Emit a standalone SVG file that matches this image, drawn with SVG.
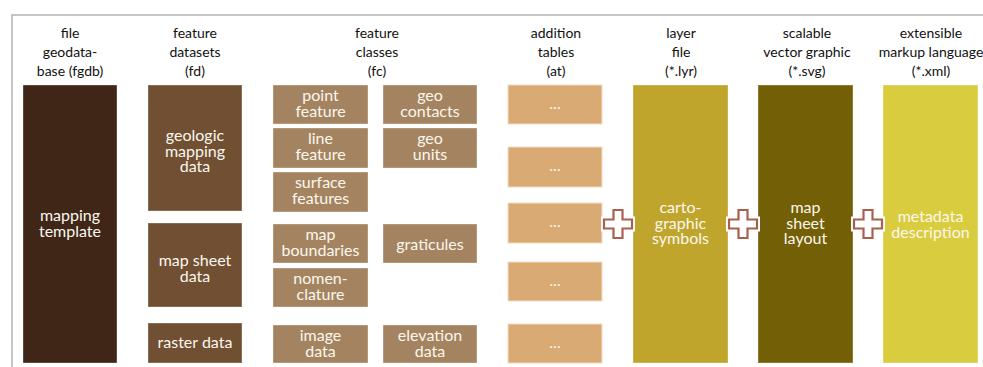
<svg xmlns="http://www.w3.org/2000/svg" width="983" height="367" viewBox="0 0 983 367">
<style>
.hd{font-family:Lato,"Open Sans","Liberation Sans",sans-serif;font-size:14px;fill:#111;text-anchor:middle}
.bt{font-family:Lato,"Open Sans","Liberation Sans",sans-serif;font-size:16px;fill:#fbf7ee;text-anchor:middle}
.box{stroke:#ffffff;stroke-opacity:0.35;stroke-width:1}
.fgdb{fill:#3f2616}
.fd{fill:#704f32}
.fc{fill:#a48460}
.at{fill:#d9aa74;stroke:#f3dcc0;stroke-width:1}
.lyr{fill:#bfa52c}
.svgc{fill:#735f05}
.xml{fill:#d9cc3f}
.plusO{fill:none;stroke:#ffffff;stroke-width:6;stroke-linejoin:miter}
.plusI{fill:#ffffff;stroke:#a8604e;stroke-width:2.2;stroke-linejoin:miter}
</style>
<defs>
<path id="plus" d="M-4.5,-14 H4.5 V-4.5 H14 V4.5 H4.5 V14 H-4.5 V4.5 H-14 V-4.5 H-4.5 Z"/>
</defs>
<rect width="983" height="367" fill="#ffffff"/>
<path d="M12,367 V15 H983" fill="none" stroke="#b3b3b3" stroke-width="1.5"/>

<g id="headers">
<text class="hd" x="70" y="38">file</text>
<text class="hd" x="70" y="57">geodata-</text>
<text class="hd" x="70" y="76">base (fgdb)</text>
<text class="hd" x="195" y="38">feature</text>
<text class="hd" x="195" y="57">datasets</text>
<text class="hd" x="195" y="76">(fd)</text>
<text class="hd" x="377" y="38">feature</text>
<text class="hd" x="377" y="57">classes</text>
<text class="hd" x="377" y="76">(fc)</text>
<text class="hd" x="556" y="38">addition</text>
<text class="hd" x="556" y="57">tables</text>
<text class="hd" x="556" y="76">(at)</text>
<text class="hd" x="681" y="38">layer</text>
<text class="hd" x="681" y="57">file</text>
<text class="hd" x="681" y="76">(*.lyr)</text>
<text class="hd" x="807" y="38">scalable</text>
<text class="hd" x="807" y="57">vector graphic</text>
<text class="hd" x="807" y="76">(*.svg)</text>
<text class="hd" x="931" y="38">extensible</text>
<text class="hd" x="931" y="57">markup language</text>
<text class="hd" x="931" y="76">(*.xml)</text>
</g>

<g id="fgdb">
<rect class="box fgdb" x="23" y="85" width="94" height="278"/>
<text class="bt" x="70" y="221">mapping</text>
<text class="bt" x="70" y="237">template</text>
</g>

<g id="fd-geologic">
<rect class="box fd" x="148" y="85" width="94" height="126"/>
<text class="bt" x="195" y="141">geologic</text>
<text class="bt" x="195" y="157">mapping</text>
<text class="bt" x="195" y="172">data</text>
</g>
<g id="fd-mapsheet">
<rect class="box fd" x="148" y="223" width="94" height="84"/>
<text class="bt" x="195" y="266">map sheet</text>
<text class="bt" x="195" y="282">data</text>
</g>
<g id="fd-raster">
<rect class="box fd" x="148" y="323" width="94" height="40"/>
<text class="bt" x="195" y="348">raster data</text>
</g>

<g id="fc-point">
<rect class="box fc" x="273" y="85" width="95" height="39"/>
<text class="bt" x="320.5" y="101">point</text>
<text class="bt" x="320.5" y="117">feature</text>
</g>
<g id="fc-line">
<rect class="box fc" x="273" y="128" width="95" height="40"/>
<text class="bt" x="320.5" y="144">line</text>
<text class="bt" x="320.5" y="160">feature</text>
</g>
<g id="fc-surface">
<rect class="box fc" x="273" y="172" width="95" height="40"/>
<text class="bt" x="320.5" y="188">surface</text>
<text class="bt" x="320.5" y="204">features</text>
</g>
<g id="fc-mapboundaries">
<rect class="box fc" x="273" y="224" width="95" height="39"/>
<text class="bt" x="320.5" y="240">map</text>
<text class="bt" x="320.5" y="256">boundaries</text>
</g>
<g id="fc-nomenclature">
<rect class="box fc" x="273" y="268" width="95" height="39"/>
<text class="bt" x="320.5" y="284">nomen-</text>
<text class="bt" x="320.5" y="300">clature</text>
</g>
<g id="fc-image">
<rect class="box fc" x="273" y="325" width="95" height="38"/>
<text class="bt" x="320.5" y="341">image</text>
<text class="bt" x="320.5" y="357">data</text>
</g>
<g id="fc-geocontacts">
<rect class="box fc" x="383" y="85" width="94" height="39"/>
<text class="bt" x="430" y="101">geo</text>
<text class="bt" x="430" y="117">contacts</text>
</g>
<g id="fc-geounits">
<rect class="box fc" x="383" y="128" width="94" height="40"/>
<text class="bt" x="430" y="144">geo</text>
<text class="bt" x="430" y="160">units</text>
</g>
<g id="fc-graticules">
<rect class="box fc" x="383" y="224" width="94" height="39"/>
<text class="bt" x="430" y="250">graticules</text>
</g>
<g id="fc-elevation">
<rect class="box fc" x="383" y="325" width="94" height="38"/>
<text class="bt" x="430" y="341">elevation</text>
<text class="bt" x="430" y="357">data</text>
</g>

<g id="at-1">
<rect class="at" x="508" y="85" width="94" height="39"/>
<text class="bt" x="555" y="109">...</text>
</g>
<g id="at-2">
<rect class="at" x="508" y="147" width="94" height="40"/>
<text class="bt" x="555" y="171">...</text>
</g>
<g id="at-3">
<rect class="at" x="508" y="203" width="94" height="40"/>
<text class="bt" x="555" y="227">...</text>
</g>
<g id="at-4">
<rect class="at" x="508" y="262" width="94" height="39"/>
<text class="bt" x="555" y="286">...</text>
</g>
<g id="at-5">
<rect class="at" x="508" y="324" width="94" height="39"/>
<text class="bt" x="555" y="348">...</text>
</g>

<g id="lyr">
<rect class="box lyr" x="633" y="85" width="95" height="278"/>
<text class="bt" x="680.5" y="213">carto-</text>
<text class="bt" x="680.5" y="229">graphic</text>
<text class="bt" x="680.5" y="244">symbols</text>
</g>
<g id="svg">
<rect class="box svgc" x="758" y="85" width="95" height="278"/>
<text class="bt" x="805.5" y="213">map</text>
<text class="bt" x="805.5" y="229">sheet</text>
<text class="bt" x="805.5" y="244">layout</text>
</g>
<g id="xml">
<rect class="box xml" x="883" y="85" width="95" height="278"/>
<text class="bt" x="930.5" y="222">metadata</text>
<text class="bt" x="930.5" y="238">description</text>
</g>

<g id="connectors">
<g transform="translate(618,224)"><use href="#plus" class="plusO"/><use href="#plus" class="plusI"/></g>
<g transform="translate(743,224)"><use href="#plus" class="plusO"/><use href="#plus" class="plusI"/></g>
<g transform="translate(868,224)"><use href="#plus" class="plusO"/><use href="#plus" class="plusI"/></g>
</g>
</svg>
